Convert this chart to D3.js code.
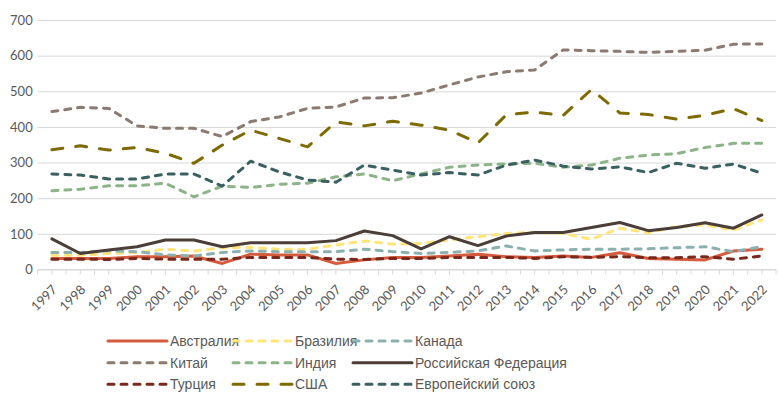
<!DOCTYPE html>
<html>
<head>
<meta charset="utf-8">
<script src="https://cdn.jsdelivr.net/npm/d3@7"></script>
<style>
  body { margin: 0; background: #fff; }
  svg { display: block; }
  .tick text { fill: #595959; font-family: Lato, 'Open Sans', sans-serif; font-size: 13px; }
  .legend text { fill: #595959; font-family: 'Liberation Sans Narrow', 'Arial Narrow', sans-serif; font-size: 14px; }
</style>
</head>
<body>
<div id="container"></div>
<script>
const years = ['1997','1998','1999','2000','2001','2002','2003','2004','2005','2006','2007','2008','2009',
  '2010','2011','2012','2013','2014','2015','2016','2017','2018','2019','2020','2021','2022'];
const yTicks = [0, 100, 200, 300, 400, 500, 600, 700];

const australia = [31, 31, 31, 36, 36, 38, 17, 43, 41, 41, 17, 27, 34, 34, 38, 43, 36, 34, 38, 34, 47, 31, 29, 27, 52, 57];
const brazil = [40, 40, 45, 48, 57, 52, 61, 62, 57, 57, 69, 80, 71, 73, 83, 92, 101, 104, 101, 85, 116, 103, 120, 125, 111, 139];
const canada = [48, 48, 53, 50, 41, 38, 48, 52, 50, 50, 50, 57, 50, 45, 48, 52, 66, 52, 55, 57, 57, 58, 61, 64, 50, 64];
const china = [443, 455, 452, 403, 396, 396, 373, 415, 428, 452, 456, 481, 482, 495, 518, 540, 555, 560, 616, 614, 612, 609, 612, 615, 632, 633];
const india = [221, 225, 235, 235, 242, 204, 234, 230, 239, 242, 260, 268, 249, 268, 287, 293, 296, 298, 287, 293, 312, 321, 325, 342, 354, 354];
const russia = [86, 45, 55, 64, 83, 83, 64, 75, 75, 75, 81, 108, 95, 58, 92, 67, 94, 104, 104, 118, 132, 109, 118, 131, 116, 153];
const turkey = [29, 29, 28, 31, 29, 29, 29, 34, 34, 34, 29, 28, 31, 31, 34, 34, 34, 31, 36, 34, 36, 33, 33, 36, 29, 38];
const usa = [336, 347, 335, 342, 326, 298, 349, 391, 368, 344, 414, 403, 416, 405, 391, 355, 434, 442, 432, 505, 439, 435, 422, 433, 451, 418];
const eu = [268, 265, 254, 254, 268, 268, 234, 304, 274, 251, 245, 293, 279, 265, 272, 265, 293, 307, 290, 282, 288, 272, 298, 284, 296, 270];

const series = [
  { name: 'Австралия', values: australia, color: '#d65b3c', dash: null },
  { name: 'Бразилия', values: brazil, color: '#ffe57a', dash: '6,7' },
  { name: 'Канада', values: canada, color: '#8cafb0', dash: '6,7' },
  { name: 'Китай', values: china, color: '#8c7a70', dash: '6,7' },
  { name: 'Индия', values: india, color: '#8db488', dash: '6,7' },
  { name: 'Российская Федерация', values: russia, color: '#4b3e38', dash: null },
  { name: 'Турция', values: turkey, color: '#7a281c', dash: '6,7' },
  { name: 'США', values: usa, color: '#7d6a00', dash: '11,13' },
  { name: 'Европейский союз', values: eu, color: '#3b6062', dash: '6,7' },
];

const width = 780;
const height = 399;
const plotLeft = 37.7;
const plotRight = 776.1;
const plotTop = 20;
const plotBottom = 269.5;

const svg = d3.select('#container').append('svg').attr('width', width).attr('height', height);

const x = d3.scaleBand().domain(years).range([plotLeft, plotRight]);
const y = d3.scaleLinear().domain([0, 700]).range([plotBottom, plotTop]);

// grid + y labels
const yAxis = svg.append('g')
  .attr('transform', `translate(${plotLeft},0)`)
  .call(d3.axisLeft(y).tickValues(yTicks).tickSize(-(plotRight - plotLeft)).tickPadding(5));
yAxis.select('.domain').remove();
yAxis.selectAll('.tick line').attr('stroke', '#d9d9d9').attr('stroke-width', 1);

// x axis line, ticks at category edges and centres
svg.append('line')
  .attr('x1', plotLeft).attr('x2', plotRight).attr('y1', plotBottom).attr('y2', plotBottom)
  .attr('stroke', '#d9d9d9').attr('stroke-width', 1);
const tickXs = years.flatMap((d) => [x(d), x(d) + x.bandwidth() / 2]).concat([plotRight]);
svg.append('g').selectAll('line')
  .data(tickXs)
  .join('line')
  .attr('x1', (d) => d)
  .attr('x2', (d) => d)
  .attr('y1', plotBottom).attr('y2', plotBottom + 5)
  .attr('stroke', '#d9d9d9');

const xAxis = svg.append('g')
  .attr('transform', `translate(0,${plotBottom})`)
  .call(d3.axisBottom(x).tickSize(0));
xAxis.select('.domain').remove();
xAxis.selectAll('.tick text')
  .attr('text-anchor', 'end')
  .attr('dy', null)
  .attr('y', 0)
  .attr('transform', 'translate(6,21) rotate(-45)');

// lines
const line = d3.line()
  .x((d, i) => x(years[i]) + x.bandwidth() / 2)
  .y((d) => y(d));

svg.append('g').selectAll('path')
  .data(series)
  .join('path')
  .attr('fill', 'none')
  .attr('stroke', (d) => d.color)
  .attr('stroke-width', 3)
  .attr('stroke-linecap', 'round')
  .attr('stroke-linejoin', 'round')
  .attr('stroke-dasharray', (d) => d.dash)
  .attr('d', (d) => line(d.values));

// legend
const colX = [108, 233, 353];
const rowY = [341, 362.7, 384.3];
const legend = svg.append('g').attr('class', 'legend')
  .selectAll('g')
  .data(series)
  .join('g')
  .attr('transform', (d, i) => `translate(${colX[i % 3]},${rowY[Math.floor(i / 3)]})`);
legend.append('line')
  .attr('x1', 0).attr('x2', 59).attr('y1', 0).attr('y2', 0)
  .attr('stroke', (d) => d.color)
  .attr('stroke-width', 3)
  .attr('stroke-linecap', 'round')
  .attr('stroke-dasharray', (d) => d.dash);
legend.append('text')
  .attr('x', 62).attr('y', 0).attr('dy', '0.35em')
  .text((d) => d.name);
</script>
</body>
</html>
